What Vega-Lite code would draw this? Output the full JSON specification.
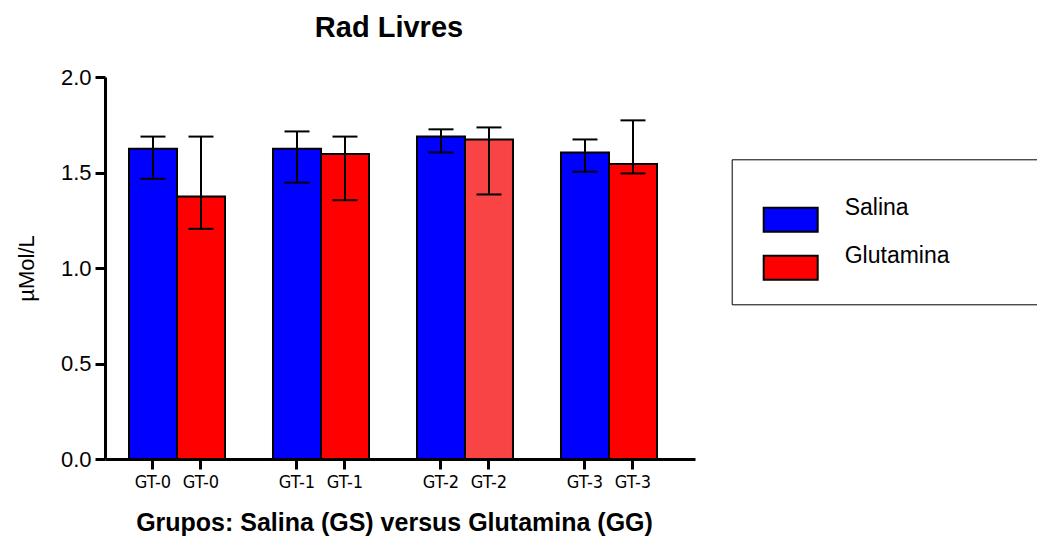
{
  "$schema": "https://vega.github.io/schema/vega-lite/v6.json",
  "autosize": "none",
  "width": 590,
  "height": 382,
  "padding": {"left": 105, "top": 77, "right": 342, "bottom": 81},
  "background": "white",
  "config": {"view": {"stroke": null}, "font": "Liberation Sans"},
  "title": {"text": "Rad Livres", "font": "Liberation Sans", "fontSize": 29, "fontWeight": "bold", "anchor": "middle", "baseline": "bottom", "offset": -6, "dx": -11, "color": "black"},
  "data": {"values": [
    {"group": "GT-0", "series": "Salina", "bar": "GT-0|Salina", "mean": 1.625, "lo": 1.467, "hi": 1.688},
    {"group": "GT-0", "series": "Glutamina", "bar": "GT-0|Glutamina", "mean": 1.375, "lo": 1.205, "hi": 1.688},
    {"group": "GT-1", "series": "Salina", "bar": "GT-1|Salina", "mean": 1.625, "lo": 1.447, "hi": 1.715},
    {"group": "GT-1", "series": "Glutamina", "bar": "GT-1|Glutamina", "mean": 1.597, "lo": 1.355, "hi": 1.688},
    {"group": "GT-2", "series": "Salina", "bar": "GT-2|Salina", "mean": 1.688, "lo": 1.605, "hi": 1.726},
    {"group": "GT-2", "series": "Glutamina", "bar": "GT-2|Glutamina", "mean": 1.673, "lo": 1.385, "hi": 1.736},
    {"group": "GT-3", "series": "Salina", "bar": "GT-3|Salina", "mean": 1.605, "lo": 1.504, "hi": 1.673},
    {"group": "GT-3", "series": "Glutamina", "bar": "GT-3|Glutamina", "mean": 1.544, "lo": 1.495, "hi": 1.773}
  ]},
  "encoding": {
    "x": {
      "field": "bar", "type": "nominal", "sort": null,
      "scale": {"domain": ["GT-0|Salina", "GT-0|Glutamina", "g1", "GT-1|Salina", "GT-1|Glutamina", "g2", "GT-2|Salina", "GT-2|Glutamina", "g3", "GT-3|Salina", "GT-3|Glutamina"], "paddingInner": 0, "paddingOuter": 0.646, "align": 0.387},
      "axis": {
        "values": ["GT-0|Salina", "GT-0|Glutamina", "GT-1|Salina", "GT-1|Glutamina", "GT-2|Salina", "GT-2|Glutamina", "GT-3|Salina", "GT-3|Glutamina"],
        "labelExpr": "split(datum.value, '|')[0]",
        "labelAngle": 0, "labelFont": "DejaVu Sans Condensed, Liberation Sans", "labelFontSize": 18, "labelColor": "black", "labelPadding": 4,
        "tickSize": 10, "tickWidth": 3, "tickColor": "black", "domainWidth": 3, "domainColor": "black",
        "title": "Grupos: Salina (GS) versus Glutamina (GG)", "titleFont": "Liberation Sans", "titleFontSize": 25, "titleFontWeight": "bold", "titleColor": "black",
        "titleX": 289, "titleY": 71, "titleAlign": "center", "titleBaseline": "alphabetic"
      }
    }
  },
  "layer": [
    {
      "mark": {"type": "bar", "stroke": "black", "strokeWidth": 2, "opacity": 1},
      "encoding": {
        "y": {"field": "mean", "type": "quantitative", "scale": {"domain": [0, 2], "nice": false},
          "axis": {"values": [0, 0.5, 1, 1.5, 2], "format": ".1f", "grid": false, "labelFontSize": 22, "labelColor": "black", "labelPadding": 4,
            "tickSize": 10, "tickWidth": 3, "tickColor": "black", "domainWidth": 3, "domainColor": "black",
            "title": "µMol/L", "titleFontSize": 22, "titleFontWeight": "normal", "titleColor": "black", "titlePadding": 22}},
        "color": {
          "condition": {"test": "datum.bar === 'GT-2|Glutamina'", "value": "#f84444"},
          "field": "series", "type": "nominal",
          "scale": {"domain": ["Salina", "Glutamina"], "range": ["#0000ff", "#ff0000"]},
          "legend": {
            "title": " ", "titleFontSize": 12, "titlePadding": 14,
            "orient": "none", "legendX": 626.7, "legendY": 82.3,
            "padding": 20, "strokeColor": "black", "fillColor": "white",
            "symbolType": "M-2,-0.889H2V0.889H-2Z", "symbolSize": 729, "symbolStrokeColor": "black", "symbolStrokeWidth": 2, "symbolOpacity": 1,
            "symbolOffset": 24.5, "labelOffset": 39.5, "labelFontSize": 23, "labelColor": "black", "labelBaseline": "bottom",
            "rowPadding": 8, "labelLimit": 800,
            "labelExpr": "datum.label + '\u2800\u2800\u2800\u2800\u2800'"
          }
        }
      }
    },
    {
      "mark": {"type": "rule", "color": "black", "strokeWidth": 2},
      "encoding": {"y": {"field": "lo", "type": "quantitative"}, "y2": {"field": "hi"}}
    },
    {
      "mark": {"type": "tick", "orient": "horizontal", "color": "black", "size": 25, "thickness": 2, "opacity": 1},
      "encoding": {"y": {"field": "lo", "type": "quantitative"}}
    },
    {
      "mark": {"type": "tick", "orient": "horizontal", "color": "black", "size": 25, "thickness": 2, "opacity": 1},
      "encoding": {"y": {"field": "hi", "type": "quantitative"}}
    }
  ]
}
